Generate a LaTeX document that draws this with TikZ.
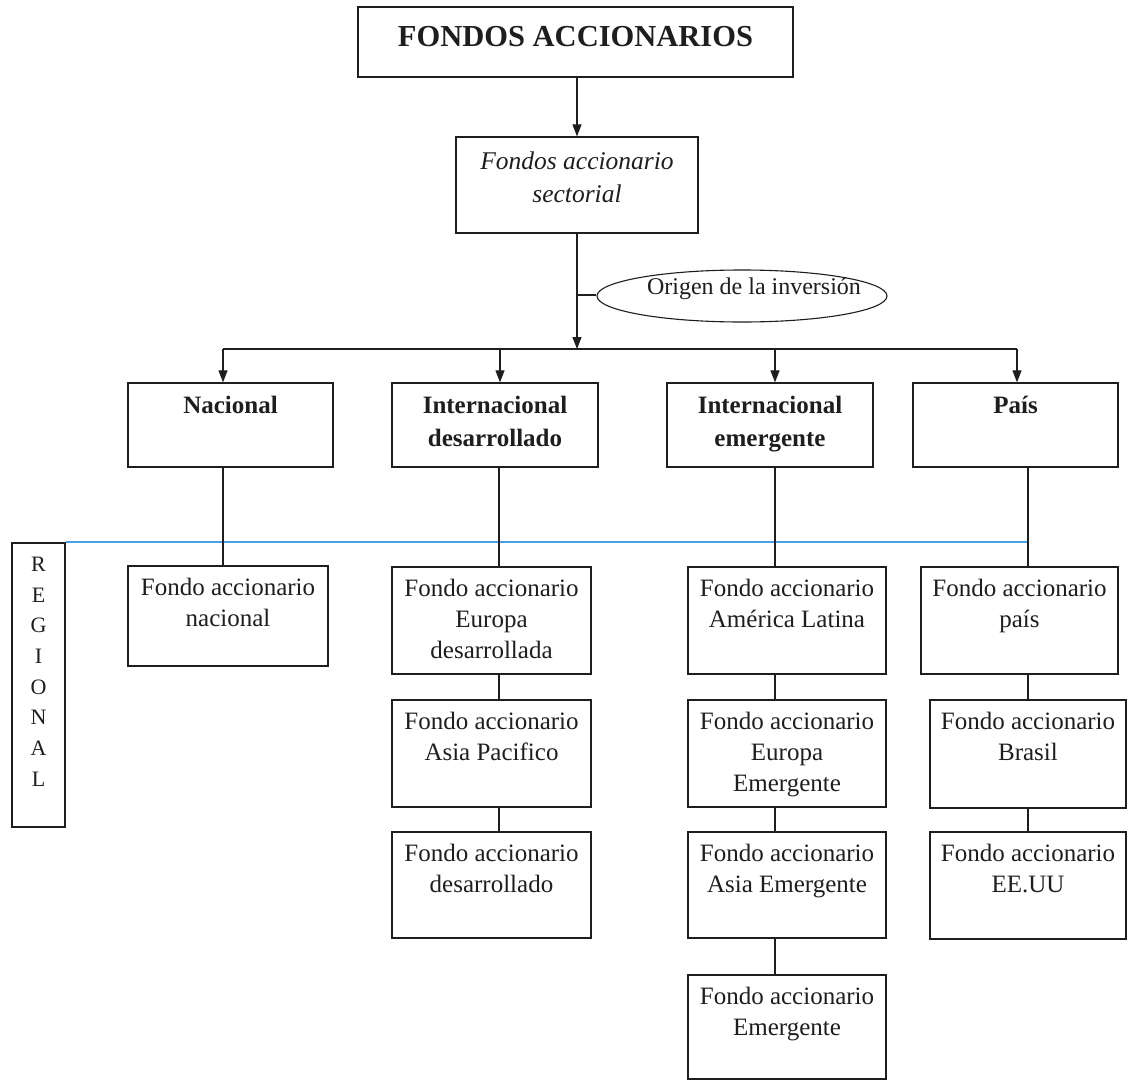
\documentclass[tikz,border=0pt]{standalone}
\usepackage{fontspec}
\setmainfont{Liberation Serif}
\usetikzlibrary{arrows.meta,fit,shapes.geometric}
\definecolor{regline}{RGB}{70,160,225}
\definecolor{ink}{RGB}{30,30,30}

% \caja[frame opts]{name}{x1}{y1}{x2}{y2}{text style}{text}
\newcommand\caja[8][]{%
  \coordinate (#2-nw) at (#3,#4);
  \coordinate (#2-se) at (#5,#6);
  \node[boxframe, fit=(#2-nw)(#2-se), #1] (#2) {};
  \node[txt, #7, anchor=north] (#2-t) at ([yshift=-12.5pt]#2.north) {#8};
}

\begin{document}
\begin{tikzpicture}[x=1pt,y=-1pt,
  boxframe/.style={draw=ink, line width=1.3pt, inner sep=0pt},
  txt/.style={inner sep=0pt, align=center, text=ink, font=\fontsize{25}{31}\selectfont},
  tbold/.style={font=\fontsize{25}{33}\selectfont\bfseries},
  tital/.style={font=\fontsize{25.5}{33}\selectfont\itshape},
  conn/.style={draw=ink, line width=1.1pt},
  arr/.style={conn, -{Triangle[length=12pt,width=9pt]}},
]
\fill[white] (0,0) rectangle (1128,1082);
\useasboundingbox (0,0) rectangle (1128,1082);

% top of the hierarchy
\caja[line width=2.6pt]{title}{358}{7}{793}{77}{font=\fontsize{30.5}{33}\selectfont\bfseries, yshift=-8pt}{FONDOS ACCIONARIOS}
\caja{sect}{456}{137}{698}{233}{tital, yshift=-3pt}{Fondos accionario\\sectorial}

% criterion
\node[draw=ink, line width=1.1pt, ellipse, minimum width=290pt, minimum height=52pt, inner sep=0pt] (orig) at (742,296) {};
\node[inner sep=0pt, text=ink, font=\fontsize{24}{28}\selectfont] (orig-t) at (754,289) {Origen de la inversión};

% first level
\caja{nac}{128}{383}{333}{467}{tbold, yshift=-1pt}{Nacional}
\caja{idev}{392}{383}{598}{467}{tbold, yshift=-1pt}{Internacional\\desarrollado}
\caja{iemg}{667}{383}{873}{467}{tbold, yshift=-1pt}{Internacional\\emergente}
\caja{pais}{913}{383}{1118}{467}{tbold, yshift=-1pt}{País}

% regional band
\caja{reg}{12}{543}{65}{827}{font=\fontsize{22}{30.7}\selectfont, yshift=-2pt}{R\\E\\G\\I\\O\\N\\A\\L}

% second level
\caja{n1}{128}{566}{328}{666}{}{Fondo accionario\\nacional}
\caja{d1}{392}{567}{591}{674}{}{Fondo accionario\\Europa\\desarrollada}
\caja{d2}{392}{700}{591}{807}{}{Fondo accionario\\Asia Pacifico}
\caja{d3}{392}{832}{591}{938}{}{Fondo accionario\\desarrollado}
\caja{e1}{688}{567}{886}{674}{}{Fondo accionario\\América Latina}
\caja{e2}{688}{700}{886}{807}{}{Fondo accionario\\Europa\\Emergente}
\caja{e3}{688}{832}{886}{938}{}{Fondo accionario\\Asia Emergente}
\caja{e4}{688}{975}{886}{1079}{}{Fondo accionario\\Emergente}
\caja{p1}{921}{567}{1118}{674}{}{Fondo accionario\\país}
\caja{p2}{930}{700}{1126}{808}{}{Fondo accionario\\Brasil}
\caja{p3}{930}{832}{1126}{939}{}{Fondo accionario\\EE.UU}

% column guides
\coordinate (c1) at (223,0);
\coordinate (c2) at (499,0);
\coordinate (c3) at (775,0);
\coordinate (c4) at (1028,0);

% connectors from the top
\draw[arr] (sect.north |- title.south) -- (sect.north);
\coordinate (hub) at (577,349);
\coordinate (tap) at (577,295);
\draw[arr] (sect.south) -- (hub);
\draw[conn] (tap) -- (tap -| orig.west);

% distribution bus
\coordinate (b1) at (223,349);
\coordinate (b2) at (500,349);
\coordinate (b3) at (775,349);
\coordinate (b4) at (1017,349);
\draw[conn] (b1) -- (b4);
\draw[arr] (b1) -- (b1 |- nac.north);
\draw[arr] (b2) -- (b2 |- idev.north);
\draw[arr] (b3) -- (b3 |- iemg.north);
\draw[arr] (b4) -- (b4 |- pais.north);

% regional line
\draw[regline, line width=1.8pt] (reg.north east) -- (c4 |- reg.north);

% drops to the second level
\draw[conn] (c1 |- nac.south) -- (c1 |- n1.north);
\draw[conn] (c2 |- idev.south) -- (c2 |- d1.north);
\draw[conn] (c2 |- d1.south) -- (c2 |- d2.north);
\draw[conn] (c2 |- d2.south) -- (c2 |- d3.north);
\draw[conn] (c3 |- iemg.south) -- (c3 |- e1.north);
\draw[conn] (c3 |- e1.south) -- (c3 |- e2.north);
\draw[conn] (c3 |- e2.south) -- (c3 |- e3.north);
\draw[conn] (c3 |- e3.south) -- (c3 |- e4.north);
\draw[conn] (c4 |- pais.south) -- (c4 |- p1.north);
\draw[conn] (c4 |- p1.south) -- (c4 |- p2.north);
\draw[conn] (c4 |- p2.south) -- (c4 |- p3.north);
\end{tikzpicture}
\end{document}
